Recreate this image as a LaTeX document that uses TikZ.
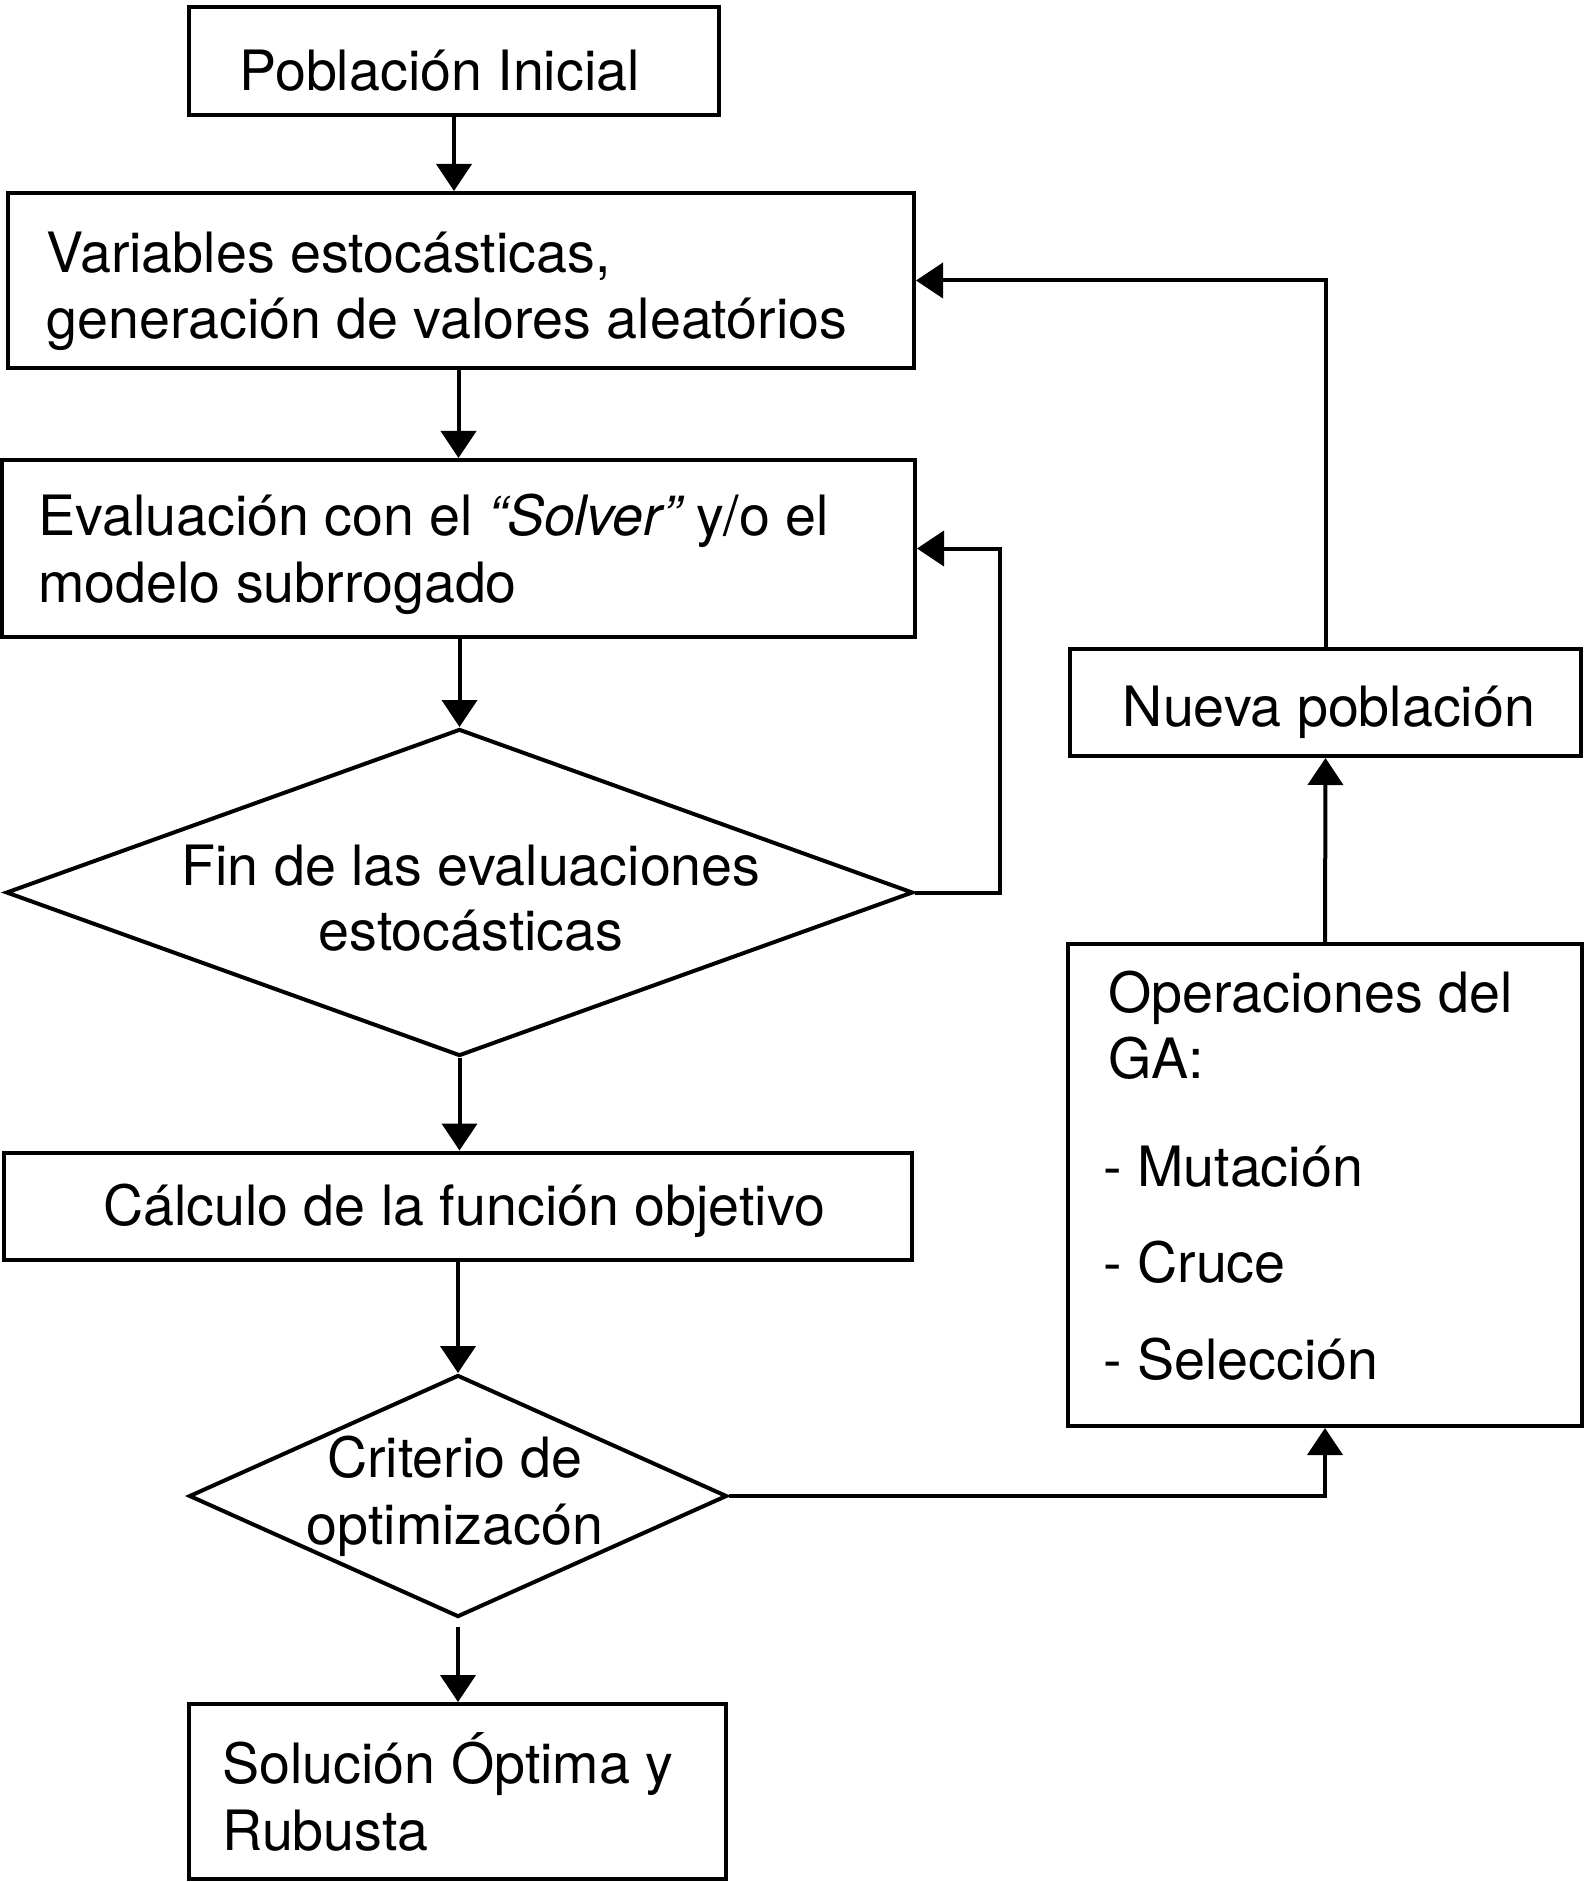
\documentclass[tikz,border=0pt]{standalone}
\usepackage{fontspec}
\setmainfont{TeX Gyre Heros}
\usetikzlibrary{arrows.meta,shapes.geometric}
\begin{document}
\begin{tikzpicture}[x=0.5pt,y=-0.5pt,
  box/.style={draw,line width=2pt,rectangle,inner sep=0pt},
  dia/.style={draw,line width=2pt,diamond,inner sep=0pt},
  txt/.style={inner sep=0pt,font=\fontsize{27.8}{33}\selectfont},
  txtl/.style={txt,anchor=base west},
  txtc/.style={txt,anchor=base},
  arr/.style={line width=2pt,-{Triangle[length=13.5pt,width=17.5pt]}}]
\useasboundingbox (0,0) rectangle (1583,1882);
\fill[white] (0,0) rectangle (1583,1882);

% shapes
\node[box,minimum width=265pt,minimum height=54pt] (pob) at (454,61) {};
\node[box,minimum width=453pt,minimum height=87.5pt] (var) at (461,280.5) {};
\node[box,minimum width=456.5pt,minimum height=88.5pt] (eva) at (458.5,548.5) {};
\node[dia,minimum width=453.5pt,minimum height=163.5pt] (d1) at (459.5,892.5) {};
\node[box,minimum width=454pt,minimum height=53.5pt] (calc) at (458,1206) {};
\node[dia,minimum width=269pt,minimum height=121pt] (d2) at (458,1496) {};
\node[box,minimum width=268.5pt,minimum height=87.5pt] (sol) at (457.5,1791.5) {};
\node[box,minimum width=255.5pt,minimum height=53.5pt] (nueva) at (1325.5,702.5) {};
\node[box,minimum width=257pt,minimum height=241pt] (ops) at (1325,1185) {};

% texts
\node[txtl] (tpob) at (239,91) {Población Inicial};
\node[txtl] (tvar1) at (46,273) {Variables estocásticas,};
\node[txtl] (tvar2) at (46,339) {generación de valores aleatórios};
\node[txtl] (teva1) at (38,535) {Evaluación con el \textit{“Solver”}\kern-2pt\ y/o el};
\node[txtl] (teva2) at (38,602) {modelo subrrogado};
\node[txtc] (td1a) at (471,885) {Fin de las evaluaciones};
\node[txtc] (td1b) at (471,950) {estocásticas};
\node[txtc] (tcalc) at (464,1225) {Cálculo de la función objetivo};
\node[txtc] (td2a) at (455,1477) {Criterio de};
\node[txtc] (td2b) at (455,1544) {optimizacón};
\node[txtl] (tsol1) at (222,1783) {Solución Óptima y};
\node[txtl] (tsol2) at (222,1850) {Rubusta};
\node[txtc] (tnueva) at (1329,726) {Nueva población};
\node[txtl] (tops1) at (1108,1012) {Operaciones del};
\node[txtl] (tops2) at (1108,1078) {GA:};
\node[txtl] (tops3) at (1103,1186) {- Mutación};
\node[txtl] (tops4) at (1103,1282) {- Cruce};
\node[txtl] (tops5) at (1103,1379) {- Selección};

% connectors
\draw[arr] (pob.south) -- (pob.south |- var.north);
\draw[arr] (eva.north |- var.south) -- (eva.north);
\draw[arr] (d1.north |- eva.south) -- (d1.north);
\draw[arr] (d1.east) -- ++(85,0) |- (eva.east);
\draw[arr] (d1.south) -- (d1.south |- calc.north);
\draw[arr] (d2.north |- calc.south) -- (d2.north);
\draw[arr] ([yshift=-4pt]d2.south) -- (d2.south |- sol.north);
\draw[arr] (d2.east) -| (ops.south);
\draw[arr] (ops.north) -- (nueva.south);
\draw[arr] (nueva.north) |- (var.east);
\end{tikzpicture}
\end{document}
